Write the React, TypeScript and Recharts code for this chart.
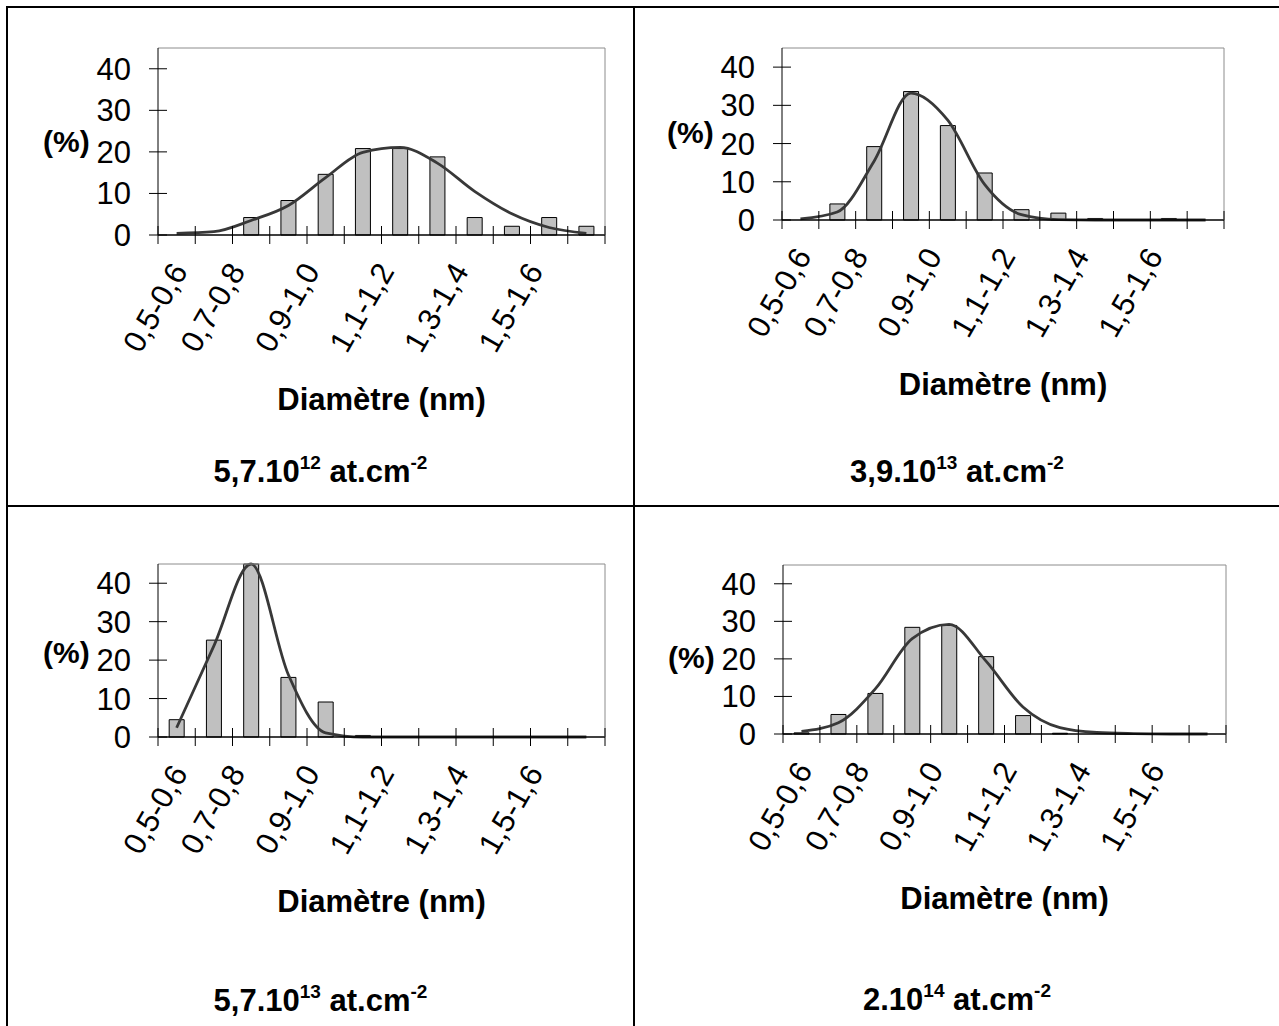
import React from "react";
import { ComposedChart, Bar, Line, XAxis, YAxis, Label } from "recharts";

// diameter classes (nm) shared by the four histograms
const categories = [
  "0,5-0,6", "0,6-0,7", "0,7-0,8", "0,8-0,9", "0,9-1,0", "1,0-1,1",
  "1,1-1,2", "1,2-1,3", "1,3-1,4", "1,4-1,5", "1,5-1,6", "1,6-1,7",
];
const yTicks = [0, 10, 20, 30, 40];

// 5,7.10^12 at.cm-2
const bars1 = [0, 0, 4.2, 8.3, 14.6, 20.8, 20.8, 18.8, 4.2, 2.1, 4.2, 2.1];
const fit1 = [0.4, 0.8, 3.5, 7.1, 13.8, 19.9, 21.1, 17.3, 10.5, 5.1, 1.8, 0.4];
// 3,9.10^13 at.cm-2
const bars2 = [0, 4.2, 19.2, 33.6, 24.7, 12.3, 2.7, 1.8, 0.4, 0, 0.4, 0];
const fit2 = [0.3, 2.1, 15.4, 33.2, 26.1, 9.3, 1.4, 0.1, 0, 0, 0, 0];
// 5,7.10^13 at.cm-2
const bars3 = [4.5, 25.2, 45, 15.5, 9.1, 0.4, 0, 0, 0, 0, 0, 0];
const fit3 = [2.4, 23.7, 45, 16.2, 1.1, 0, 0, 0, 0, 0, 0, 0];
// 2.10^14 at.cm-2
const bars4 = [0.3, 5.2, 10.8, 28.4, 28.9, 20.6, 4.9, 0.2, 0, 0, 0, 0];
const fit4 = [0.7, 3.0, 12.0, 25.4, 29.2, 19.4, 7.2, 1.7, 0.4, 0.1, 0, 0];

const FONT = "'Liberation Sans', Arial, sans-serif";

type Panel = {
  bars: number[];
  fit: number[];
  lead: string;
  exp: string;
  left: number;
  top: number;
  width: number;
  height: number;
  mTop: number;
  mRight: number;
  yW: number;
  xH: number;
  pctDy: number;
  subDy: number;
};

const panels: Panel[] = [
  { bars: bars1, fit: fit1, lead: "5,7.10", exp: "12", left: 8, top: 8, width: 625, height: 490, mTop: 39, mRight: 27, yW: 150, xH: 263, pctDy: 10, subDy: 247 },
  { bars: bars2, fit: fit2, lead: "3,9.10", exp: "13", left: 635, top: 8, width: 644, height: 490, mTop: 39, mRight: 54, yW: 147, xH: 278, pctDy: 9, subDy: 262 },
  { bars: bars3, fit: fit3, lead: "5,7.10", exp: "13", left: 8, top: 508, width: 625, height: 518, mTop: 55, mRight: 27, yW: 150, xH: 289, pctDy: 12, subDy: 274 },
  { bars: bars4, fit: fit4, lead: "2.10", exp: "14", left: 635, top: 508, width: 644, height: 518, mTop: 56, mRight: 52, yW: 148, xH: 292, pctDy: 18, subDy: 276 },
];

function Histogram({ p }: { p: Panel }) {
  const data = categories.map((cat, i) => ({ cat, pct: p.bars[i], fit: p.fit[i] }));
  const plotW = p.width - p.yW - p.mRight - 1;
  const plotH = p.height - p.mTop - 1 - p.xH;
  const band = plotW / categories.length;

  const xTick = (t: any) => {
    const { x, y, index, payload } = t;
    // the first label sits a little to the right, as in the original
    const lx = x - 5 + (index === 0 ? 17 : 0);
    const ly = y + 36;
    return (
      <g>
        <line x1={x - band / 2} x2={x - band / 2} y1={y - 9} y2={y + 9} stroke="#000" />
        {index === categories.length - 1 && (
          <line x1={x + band / 2} x2={x + band / 2} y1={y - 9} y2={y + 9} stroke="#000" />
        )}
        {index % 2 === 0 && (
          <text x={lx} y={ly} textAnchor="end" transform={`rotate(-60 ${lx} ${ly})`}
            fontSize={31} fontFamily={FONT} fill="#000">
            {payload.value}
          </text>
        )}
      </g>
    );
  };

  const yTick = (t: any) => {
    const { x, y, payload } = t;
    return (
      <g>
        <line x1={x - 9} x2={x + 9} y1={y} y2={y} stroke="#000" />
        <text x={x - 27} y={y + 11} textAnchor="end" fontSize={31} fontFamily={FONT} fill="#000">
          {payload.value}
        </text>
      </g>
    );
  };

  const xLabel = (props: any) => {
    const vb = props && props.viewBox && props.viewBox.width ? props.viewBox : { x: p.yW, y: p.mTop + 1 + plotH, width: plotW };
    return (
      <g>
        <text x={vb.x + vb.width / 2} y={vb.y + 175} textAnchor="middle" fontWeight="bold"
          fontSize={31} fontFamily={FONT} fill="#000">
          Diamètre (nm)
        </text>
        <text x={p.width / 2} y={vb.y + p.subDy} textAnchor="middle" fontWeight="bold"
          fontSize={31} fontFamily={FONT} fill="#000" xmlSpace="preserve">
          {p.lead}
          <tspan dy={-13} fontSize={19}>{p.exp}</tspan>
          <tspan dy={13}>{" at.cm"}</tspan>
          <tspan dy={-13} fontSize={19}>-2</tspan>
        </text>
      </g>
    );
  };

  const yLabel = (props: any) => {
    const vb = props && props.viewBox && props.viewBox.height ? props.viewBox : { x: 0, y: p.mTop + 1, width: p.yW, height: plotH };
    return (
      <text x={vb.x + vb.width - 115} y={vb.y + vb.height / 2 + p.pctDy} fontWeight="bold"
        fontSize={30} fontFamily={FONT} fill="#000">
        (%)
      </text>
    );
  };

  return (
    <ComposedChart width={p.width} height={p.height} data={data} barCategoryGap="30%"
      margin={{ top: p.mTop, right: p.mRight, bottom: 0, left: 0 }}>
      <XAxis dataKey="cat" interval={0} height={p.xH} tickLine={false} tickSize={0} tickMargin={0}
        axisLine={{ stroke: "#000", strokeWidth: 1.3 }} tick={xTick}>
        <Label content={xLabel} />
      </XAxis>
      <XAxis xAxisId="top" orientation="top" dataKey="cat" height={1} tick={false} tickLine={false}
        axisLine={{ stroke: "#8c8c8c" }} />
      <YAxis domain={[0, 45]} ticks={yTicks} interval={0} width={p.yW} tickLine={false} tickSize={0}
        tickMargin={0} axisLine={{ stroke: "#000" }} tick={yTick}>
        <Label content={yLabel} />
      </YAxis>
      <YAxis yAxisId="right" orientation="right" width={1} domain={[0, 45]} tick={false} tickLine={false}
        axisLine={{ stroke: "#8c8c8c" }} />
      <Bar dataKey="pct" fill="#c0c0c0" stroke="#000" strokeWidth={1} isAnimationActive={false} />
      <Line type="monotone" dataKey="fit" stroke="#383838" strokeWidth={2.8} dot={false}
        activeDot={false} isAnimationActive={false} />
    </ComposedChart>
  );
}

export default function App() {
  const border = "#000";
  return (
    <div style={{ position: "absolute", left: 0, top: 0, width: 1279, height: 1026, background: "#fff", overflow: "hidden", fontFamily: FONT }}>
      <div style={{ position: "absolute", left: 6, top: 6, width: 1273, height: 2, background: border }} />
      <div style={{ position: "absolute", left: 6, top: 6, width: 2, height: 1020, background: border }} />
      <div style={{ position: "absolute", left: 633, top: 6, width: 2, height: 1020, background: border }} />
      <div style={{ position: "absolute", left: 6, top: 505, width: 1273, height: 2, background: border }} />
      {panels.map((p, i) => (
        <div key={i} style={{ position: "absolute", left: p.left, top: p.top }}>
          <Histogram p={p} />
        </div>
      ))}
    </div>
  );
}
